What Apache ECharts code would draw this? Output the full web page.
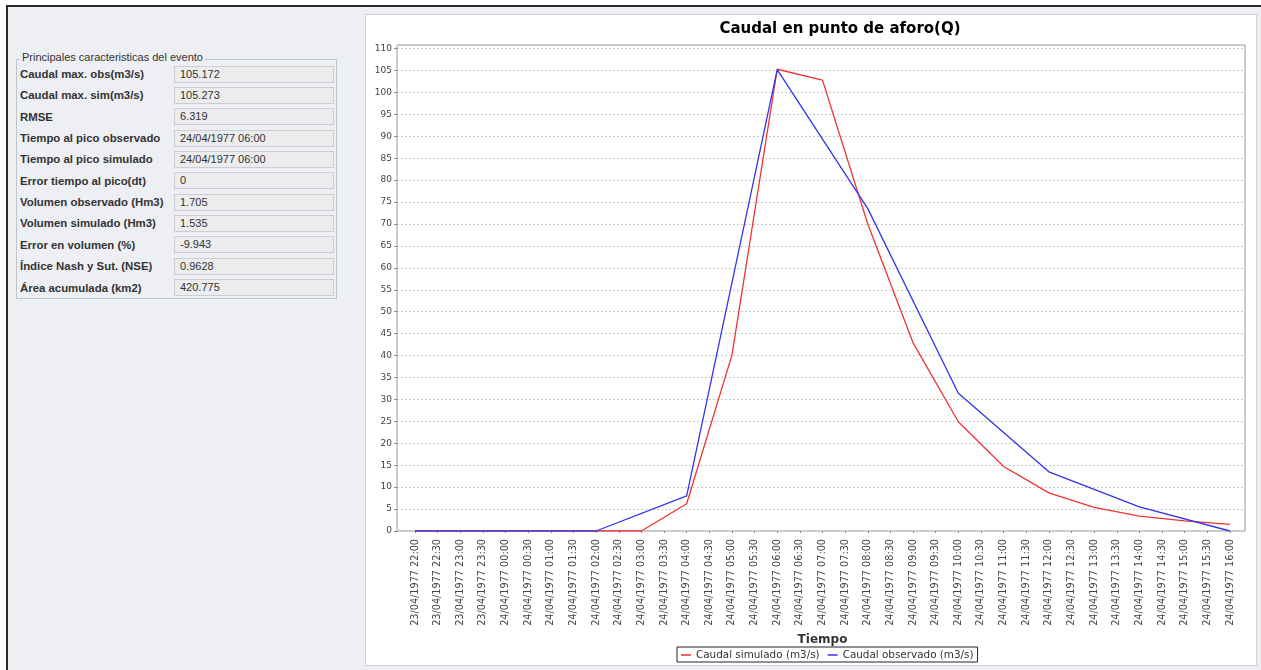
<!DOCTYPE html>
<html>
<head>
<meta charset="utf-8">
<script src="https://cdn.jsdelivr.net/npm/echarts@6/dist/echarts.min.js"></script>
<style>
  html, body { margin: 0; padding: 0; width: 1261px; height: 670px; overflow: hidden; background: #ffffff; }
  #frame { position: absolute; left: 6px; top: 5px; width: 1255px; height: 665px; background: #eeeff3; border-top: 2px solid #2a2a2a; border-left: 2px solid #2a2a2a; box-sizing: border-box; }
  #panel { position: absolute; left: 365px; top: 14px; width: 892px; height: 652px; background: #ffffff; border: 1px solid #cfd3da; box-sizing: border-box; }
  #group { position: absolute; left: 16px; top: 59px; width: 321px; height: 240px; border: 1px solid #bcc6d2; box-sizing: border-box; }
  #gtitle { position: absolute; left: 20px; top: 51px; padding: 0 2px; background: #eeeff3; font: 11px "Liberation Sans", Arial, sans-serif; color: #333; }
  .lbl { position: absolute; left: 20px; font: bold 11.4px "Liberation Sans", Arial, sans-serif; color: #333; line-height: 16px; }
  .fld { position: absolute; left: 174px; width: 160px; height: 17px; background: #ececec; border: 1px solid #c9ced6; box-sizing: border-box; font: 11px "Liberation Sans", Arial, sans-serif; color: #333; padding-left: 5px; line-height: 15px; }
  #chart { position: absolute; left: 0; top: 0; width: 1261px; height: 670px; }
</style>
</head>
<body>
<div id="frame"></div>
<div id="panel"></div>
<div id="group"></div>
<div id="gtitle">Principales caracteristicas del evento</div>
<div id="rows"></div>
<div id="chart"></div>
<script>
// ---- table data ----
var statLabels = [
  "Caudal max. obs(m3/s)", "Caudal max. sim(m3/s)", "RMSE", "Tiempo al pico observado",
  "Tiempo al pico simulado", "Error tiempo al pico(dt)", "Volumen observado (Hm3)",
  "Volumen simulado (Hm3)", "Error en volumen (%)", "Índice Nash y Sut. (NSE)", "Área acumulada (km2)"
];
var statValues = [
  "105.172", "105.273", "6.319", "24/04/1977 06:00", "24/04/1977 06:00", "0",
  "1.705", "1.535", "-9.943", "0.9628", "420.775"
];

// ---- chart data ----
var categories = [
  "23/04/1977 22:00", "23/04/1977 22:30", "23/04/1977 23:00", "23/04/1977 23:30",
  "24/04/1977 00:00", "24/04/1977 00:30", "24/04/1977 01:00", "24/04/1977 01:30",
  "24/04/1977 02:00", "24/04/1977 02:30", "24/04/1977 03:00", "24/04/1977 03:30",
  "24/04/1977 04:00", "24/04/1977 04:30", "24/04/1977 05:00", "24/04/1977 05:30",
  "24/04/1977 06:00", "24/04/1977 06:30", "24/04/1977 07:00", "24/04/1977 07:30",
  "24/04/1977 08:00", "24/04/1977 08:30", "24/04/1977 09:00", "24/04/1977 09:30",
  "24/04/1977 10:00", "24/04/1977 10:30", "24/04/1977 11:00", "24/04/1977 11:30",
  "24/04/1977 12:00", "24/04/1977 12:30", "24/04/1977 13:00", "24/04/1977 13:30",
  "24/04/1977 14:00", "24/04/1977 14:30", "24/04/1977 15:00", "24/04/1977 15:30",
  "24/04/1977 16:00"
];
// simulated: hourly values (null on the half hours)
var simulado = [
  0, null, 0, null, 0, null, 0, null, 0, null, 0, null,
  6.2, null, 40.1, null, 105.273, null, 102.8, null, 70.0, null, 42.9, null,
  24.9, null, 14.7, null, 8.7, null, 5.4, null, 3.4, null, 2.3, null, 1.5
];
// observed: two-hourly values (null elsewhere)
var observado = [
  0, null, null, null, 0, null, null, null, 0, null, null, null,
  8.0, null, null, null, 105.172, null, null, null, 73.5, null, null, null,
  31.4, null, null, null, 13.5, null, null, null, 5.5, null, null, null, 0
];
var seriesNames = ["Caudal simulado (m3/s)", "Caudal observado (m3/s)"];
var yMin = 0, yMax = 110.8, yStep = 5;

// build table
(function () {
  var rows = document.getElementById('rows');
  for (var i = 0; i < statLabels.length; i++) {
    var rowTop = 66 + i * 21.35;
    var l = document.createElement('div');
    l.className = 'lbl'; l.style.top = rowTop + 'px'; l.textContent = statLabels[i];
    var f = document.createElement('div');
    f.className = 'fld'; f.style.top = (rowTop - 0.5) + 'px'; f.textContent = statValues[i];
    rows.appendChild(l); rows.appendChild(f);
  }
})();

var chart = echarts.init(document.getElementById('chart'), null, { renderer: 'canvas' });
var font = '"DejaVu Sans", Verdana, sans-serif';
chart.setOption({
  animation: false,
  backgroundColor: 'transparent',
  title: {
    text: 'Caudal en punto de aforo(Q)',
    left: 835, top: 17, textAlign: 'center',
    textStyle: { fontFamily: font, fontSize: 15, fontWeight: 'bold', color: '#000' }
  },
  legend: {
    data: seriesNames,
    left: 677, top: 647,
    padding: [3, 4, 2, 4],
    itemGap: 8,
    icon: 'rect', itemWidth: 10, itemHeight: 1.5,
    borderColor: '#222', borderWidth: 1, backgroundColor: '#fff',
    textStyle: { fontFamily: font, fontSize: 10.4, color: '#333' }
  },
  grid: [
    { left: 415, right: 31, top: 45, bottom: 139 },
    { left: 397, right: 16, top: 45, bottom: 139, show: true, borderColor: '#9a9a9a', borderWidth: 1, backgroundColor: 'transparent' }
  ],
  xAxis: [
    {
      type: 'category', gridIndex: 0, data: categories, boundaryGap: false,
      axisLine: { show: false },
      axisTick: { show: true, length: 2, lineStyle: { color: '#888' } },
      axisLabel: { rotate: 90, interval: 0, fontFamily: font, fontSize: 9.7, color: '#444', margin: 8 },
      splitLine: { show: false },
      name: 'Tiempo', nameLocation: 'middle', nameGap: 98,
      nameTextStyle: { fontFamily: font, fontSize: 12, fontWeight: 'bold', color: '#333' }
    },
    { type: 'value', gridIndex: 1, show: false, min: 0, max: 1 }
  ],
  yAxis: [
    { type: 'value', gridIndex: 0, min: yMin, max: yMax, show: false, splitLine: { show: false } },
    {
      type: 'value', gridIndex: 1, min: yMin, max: yMax, interval: yStep,
      axisLine: { show: false },
      axisTick: { show: true, length: 3, lineStyle: { color: '#888' } },
      axisLabel: { fontFamily: font, fontSize: 9, color: '#444', margin: 5, showMaxLabel: false },
      splitLine: { show: true, lineStyle: { color: '#c8c8c8', type: [2, 2], width: 1 } }
    }
  ],
  series: [
    {
      name: seriesNames[0], type: 'line', xAxisIndex: 0, yAxisIndex: 0,
      data: simulado, connectNulls: true, showSymbol: false, symbol: 'none',
      itemStyle: { color: '#ee3333' }, lineStyle: { color: '#ee3333', width: 1.3 }
    },
    {
      name: seriesNames[1], type: 'line', xAxisIndex: 0, yAxisIndex: 0,
      data: observado, connectNulls: true, showSymbol: false, symbol: 'none',
      itemStyle: { color: '#3333ee' }, lineStyle: { color: '#3333ee', width: 1.3 }
    }
  ]
});
</script>
</body>
</html>
